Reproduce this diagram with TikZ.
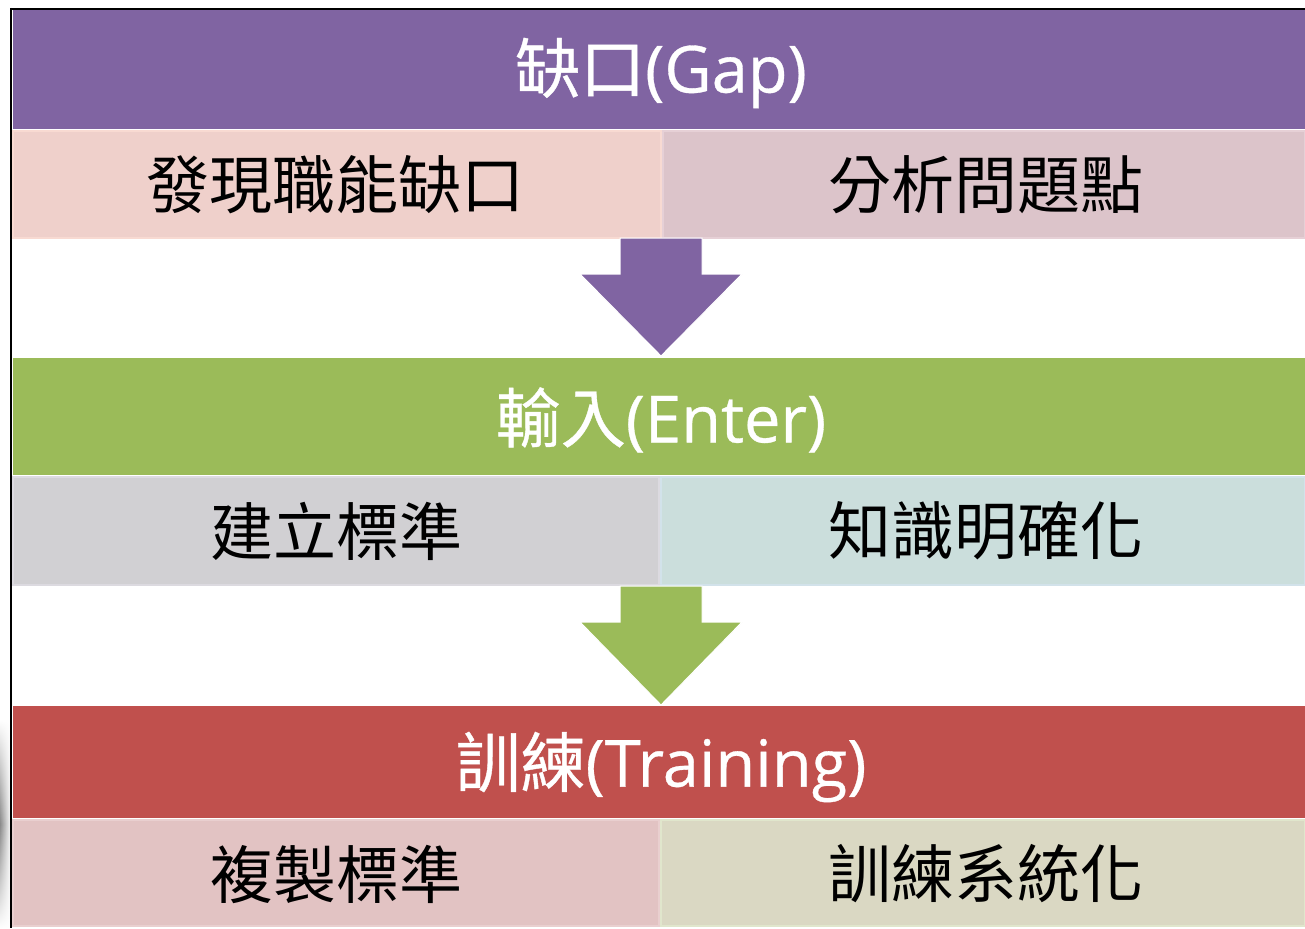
\documentclass[tikz,border=0pt]{standalone}
\usepackage{fontspec}
\setmainfont{Noto Sans CJK TC}
\newfontfamily\latf[FakeBold=0.5]{Open Sans}
\newfontfamily\hdcjk[FakeBold=0.6]{Noto Sans CJK TC}
\usetikzlibrary{fadings}
\definecolor{cPurple}{HTML}{8064A2}
\definecolor{cGreen}{HTML}{9BBB59}
\definecolor{cRed}{HTML}{C0504D}
\definecolor{cA1}{HTML}{EFD0CB}
\definecolor{cA1b}{HTML}{F8DAD2}
\definecolor{cA2}{HTML}{DCC4CA}
\definecolor{cA2b}{HTML}{E6D0D6}
\definecolor{cB1}{HTML}{D1D0D3}
\definecolor{cB1b}{HTML}{DCDAE0}
\definecolor{cB2}{HTML}{CBDEDC}
\definecolor{cB2b}{HTML}{D2E2EA}
\definecolor{cC1}{HTML}{E2C3C3}
\definecolor{cC1b}{HTML}{E9CFCF}
\definecolor{cC2}{HTML}{DAD8C3}
\definecolor{cC2b}{HTML}{E0E6CC}
\tikzfading[name=vfade, top color=transparent!100, bottom color=transparent!100, middle color=transparent!0]
\tikzset{
  header/.style={rectangle, inner sep=0pt, outer sep=0pt, anchor=north west},
  htext/.style={text=white, font=\fontsize{65}{65}\selectfont, inner sep=0pt},
  cell/.style={rectangle, inner sep=0pt, outer sep=0pt, line width=2pt, anchor=north west},
  ctext/.style={font=\fontsize{63}{63}\selectfont, text=black, inner sep=0pt},
  blockarrow/.style={draw=white, line width=1pt, line join=miter}
}
\begin{document}
\begin{tikzpicture}[x=1pt, y=-1pt]
\useasboundingbox (0,0) rectangle (1305,928);
\fill[white] (0,0) rectangle (1305,928);
% left shadow
\shade[left color=black!45, right color=white, path fading=vfade] (0,720) rectangle (11,928);
% headers
\node[header, fill=cPurple, minimum width=1292pt, minimum height=119pt] (h1) at (13,10) {};
\node[htext] (t1) at (661,73) {{\hdcjk 缺口}{\latf (Gap)}};
\node[header, fill=cGreen, minimum width=1292pt, minimum height=117pt] (h2) at (13,358) {};
\node[htext] (t2) at (661,420) {{\hdcjk 輸入}{\latf (Enter)}};
\node[header, fill=cRed, minimum width=1292pt, minimum height=112pt] (h3) at (13,706) {};
\node[htext] (t3) at (661,767) {{\hdcjk 訓練}{\latf (Training)}};
% row 1 cells
\node[cell, fill=cA1, draw=cA1b, minimum width=648pt, minimum height=107pt] (a1) at (13,131) {};
\node[cell, fill=cA2, draw=cA2b, minimum width=642pt, minimum height=107pt] (a2) at (663,131) {};
\node[ctext] (ta1) at (335,185) {發現職能缺口};
\node[ctext] (ta2) at (986,185) {分析問題點};
% row 2 cells
\node[cell, fill=cB1, draw=cB1b, minimum width=646pt, minimum height=108pt] (b1) at (13,477) {};
\node[cell, fill=cB2, draw=cB2b, minimum width=644pt, minimum height=108pt] (b2) at (661,477) {};
\node[ctext] (tb1) at (336,531) {建立標準};
\node[ctext] (tb2) at (986,531) {知識明確化};
% row 3 cells
\node[cell, fill=cC1, draw=cC1b, minimum width=646pt, minimum height=106pt] (c1) at (13,820) {};
\node[cell, fill=cC2, draw=cC2b, minimum width=644pt, minimum height=106pt] (c2) at (661,820) {};
\node[ctext] (tc1) at (336,874) {複製標準};
\node[ctext] (tc2) at (986,874) {訓練系統化};
% block arrows
\fill[cPurple, blockarrow] (620,238) -- (702,238) -- (702,274) -- (742,274) -- (661,356) -- (580,274) -- (620,274) -- cycle;
\fill[cGreen, blockarrow] (620,586) -- (702,586) -- (702,622) -- (742,622) -- (661,705) -- (580,622) -- (620,622) -- cycle;
% frame lines
\draw[black, line width=2pt] (10,9) -- (1305,9);
\draw[black, line width=2pt] (11,8) -- (11,928);
\end{tikzpicture}
\end{document}
